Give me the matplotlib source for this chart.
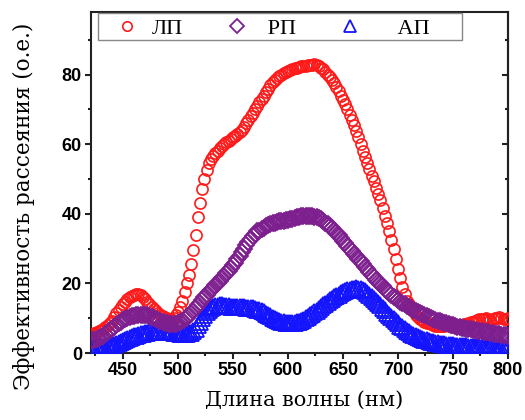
import numpy as np
import matplotlib
matplotlib.use("Agg")
import matplotlib.pyplot as plt
from matplotlib.patches import Rectangle
from matplotlib.ticker import MultipleLocator

# Wavelength grid (nm), 420 ... 800 in 2 nm steps
wavelength = np.arange(420, 801, 2)

# Scattering efficiency, arb. units
lp = [5.5, 5.6, 5.8, 6.0, 6.3, 6.6, 7.0, 7.5, 8.0, 8.6,
      9.3, 10.4, 11.5, 12.4, 13.2, 14.0, 14.8, 15.4, 16.0, 16.5,
      16.8, 17.0, 16.9, 16.6, 16.2, 15.6, 14.8, 14.0, 13.2, 12.6,
      12.0, 11.5, 11.0, 10.6, 10.2, 10.0, 9.8, 9.9, 10.2, 10.8,
      11.8, 13.2, 15.0, 17.5, 20.0, 22.5, 25.5, 29.5, 34.0, 39.0,
      43.0, 47.0, 50.0, 52.5, 54.5, 55.8, 56.7, 57.4, 58.0, 58.8,
      59.5, 60.0, 60.5, 61.0, 61.5, 62.0, 62.5, 63.0, 63.5, 64.2,
      65.0, 66.0, 67.0, 68.0, 69.0, 70.0, 71.0, 72.0, 73.0, 74.0,
      75.0, 76.0, 77.0, 77.8, 78.5, 79.0, 79.5, 80.0, 80.5, 80.8,
      81.0, 81.3, 81.5, 81.8, 82.0, 82.3, 82.5, 82.4, 82.5, 82.7,
      82.8, 82.9, 83.0, 82.8, 82.5, 82.0, 81.5, 80.8, 80.0, 79.3,
      78.5, 77.5, 76.5, 75.3, 74.0, 72.8, 71.5, 70.0, 68.5, 67.0,
      65.5, 63.8, 62.0, 60.0, 58.0, 56.3, 54.5, 52.8, 51.0, 49.3,
      47.5, 45.8, 44.0, 41.8, 39.5, 37.3, 35.0, 32.5, 30.0, 27.0,
      24.0, 21.5, 19.0, 17.0, 15.0, 14.0, 13.0, 12.0, 11.0, 10.4,
      9.8, 9.4, 9.0, 8.7, 8.5, 8.2, 8.0, 7.9, 7.8, 7.7,
      7.8, 7.9, 8.0, 7.9, 7.8, 7.6, 7.5, 7.6, 7.8, 8.0,
      8.2, 8.4, 8.5, 8.8, 9.0, 9.3, 9.5, 9.7, 9.8, 9.9,
      10.0, 9.8, 9.6, 9.8, 10.0, 10.2, 10.3, 10.0, 9.8, 9.9,
      10.0]
rp = [3.5, 3.6, 3.8, 4.0, 4.3, 4.6, 5.0, 5.5, 6.0, 6.5,
      7.0, 7.5, 8.0, 8.5, 9.0, 9.4, 9.8, 10.0, 10.3, 10.5,
      10.7, 10.9, 11.0, 11.0, 11.0, 10.9, 10.8, 10.5, 10.3, 10.0,
      9.8, 9.5, 9.2, 8.9, 8.7, 8.5, 8.3, 8.3, 8.3, 8.4,
      8.6, 8.9, 9.3, 9.7, 10.2, 10.8, 11.5, 12.2, 13.0, 13.7,
      14.5, 15.3, 16.2, 16.8, 17.5, 18.2, 18.8, 19.4, 20.0, 20.7,
      21.5, 22.2, 23.0, 23.7, 24.5, 25.2, 26.0, 27.0, 28.0, 29.0,
      30.0, 31.0, 32.0, 32.8, 33.5, 34.3, 35.0, 35.2, 35.5, 36.0,
      36.5, 36.8, 37.0, 37.3, 37.5, 37.7, 37.8, 37.9, 38.0, 38.2,
      38.3, 38.5, 38.6, 38.8, 39.0, 39.2, 39.3, 39.4, 39.5, 39.5,
      39.5, 39.4, 39.2, 39.0, 38.7, 38.4, 38.0, 37.5, 37.0, 36.4,
      35.8, 35.2, 34.5, 33.8, 33.0, 32.3, 31.5, 30.8, 30.0, 29.3,
      28.5, 27.8, 27.0, 26.3, 25.5, 24.8, 24.0, 23.3, 22.5, 21.8,
      21.0, 20.4, 19.8, 19.2, 18.5, 17.9, 17.3, 16.8, 16.2, 15.7,
      15.2, 14.8, 14.4, 14.0, 13.6, 13.2, 12.8, 12.5, 12.1, 11.8,
      11.5, 11.2, 10.9, 10.6, 10.3, 10.0, 9.8, 9.5, 9.3, 9.1,
      8.9, 8.7, 8.5, 8.3, 8.1, 8.0, 7.8, 7.6, 7.5, 7.3,
      7.2, 7.0, 6.9, 6.8, 6.7, 6.5, 6.4, 6.3, 6.2, 6.1,
      6.0, 5.9, 5.8, 5.7, 5.6, 5.5, 5.4, 5.3, 5.2, 5.1,
      5.0]
ap = [1.5, 1.5, 1.5, 1.6, 1.6, 1.7, 1.7, 1.8, 1.9, 2.0,
      2.2, 2.4, 2.7, 3.0, 3.2, 3.5, 3.8, 4.0, 4.3, 4.5,
      4.8, 5.0, 5.2, 5.4, 5.5, 5.7, 5.8, 5.9, 6.0, 6.1,
      6.2, 6.3, 6.3, 6.3, 6.2, 6.1, 6.0, 5.9, 5.8, 5.7,
      5.7, 5.6, 5.6, 5.6, 5.6, 5.7, 5.8, 6.2, 7.0, 8.0,
      9.0, 10.0, 11.0, 11.8, 12.5, 12.9, 13.3, 13.5, 13.6, 13.7,
      13.7, 13.6, 13.5, 13.4, 13.3, 13.2, 13.2, 13.2, 13.2, 13.1,
      13.1, 13.0, 13.0, 12.9, 12.8, 12.7, 12.5, 12.3, 12.0, 11.7,
      11.3, 10.9, 10.5, 10.1, 9.8, 9.5, 9.2, 9.0, 8.8, 8.6,
      8.5, 8.5, 8.5, 8.6, 8.8, 9.0, 9.3, 9.6, 10.0, 10.4,
      10.8, 11.2, 11.7, 12.2, 12.7, 13.2, 13.7, 14.2, 14.7, 15.2,
      15.6, 16.0, 16.4, 16.8, 17.1, 17.4, 17.7, 18.0, 18.2, 18.4,
      18.5, 18.6, 18.5, 18.3, 18.1, 17.7, 17.3, 16.8, 16.2, 15.6,
      15.0, 14.4, 13.7, 13.0, 12.3, 11.6, 11.0, 10.3, 9.7, 9.1,
      8.5, 7.9, 7.4, 6.9, 6.4, 6.0, 5.6, 5.2, 4.9, 4.6,
      4.3, 4.0, 3.8, 3.6, 3.4, 3.2, 3.1, 2.9, 2.8, 2.7,
      2.6, 2.5, 2.4, 2.3, 2.2, 2.2, 2.1, 2.1, 2.0, 2.0,
      1.9, 1.9, 1.8, 1.8, 1.7, 1.7, 1.7, 1.7, 1.6, 1.6,
      1.6, 1.6, 1.6, 1.6, 1.5, 1.5, 1.5, 1.5, 1.5, 1.5,
      1.5]

labels = ["ЛП", "РП", "АП"]
colors = ["#ff1a1a", "#7d1f8e", "#1414ff"]

fig = plt.figure(figsize=(5.25, 4.2), dpi=100)
ax = fig.add_axes([91 / 525, 1 - 353 / 420, 417 / 525, 341 / 420])

h_lp, = ax.plot(wavelength, lp, ls="none", marker="o", ms=8, mfc="none", mec=colors[0],
                mew=1.2, zorder=3)
h_ap, = ax.plot(wavelength, ap, ls="none", marker="^", ms=11, mfc="none", mec=colors[2],
                mew=1.3, zorder=3)
h_rp, = ax.plot(wavelength, rp, ls="none", marker="D", ms=8.5, mfc="none", mec=colors[1],
                mew=1.3, zorder=4)

ax.set_xlim(421, 800)
ax.set_ylim(0, 98)

ax.xaxis.set_major_locator(MultipleLocator(50))
ax.xaxis.set_minor_locator(MultipleLocator(25))
ax.yaxis.set_major_locator(MultipleLocator(20))
ax.yaxis.set_minor_locator(MultipleLocator(10))
ax.set_yticks([0, 20, 40, 60, 80])

for s in ax.spines.values():
    s.set_linewidth(1.5)
    s.set_color("#222222")

ax.tick_params(which="both", direction="out", top=False, right=False, color="#222222", width=1.5)
ax.tick_params(which="major", length=4.5, pad=2)
ax.tick_params(which="minor", length=2.5)
for lab in ax.get_xticklabels() + ax.get_yticklabels():
    lab.set_fontfamily("Liberation Sans")
    lab.set_fontweight("bold")
    lab.set_fontsize(13)

sec = ax.secondary_yaxis("right")
sec.yaxis.set_major_locator(MultipleLocator(20))
sec.yaxis.set_minor_locator(MultipleLocator(10))
sec.tick_params(which="both", direction="in", color="#222222", width=1.5, labelright=False)
sec.tick_params(which="major", length=4.5)
sec.tick_params(which="minor", length=2.5)
sec.spines["right"].set_linewidth(1.5)
sec.spines["right"].set_color("#222222")

ax.set_xlabel("Длина волны (нм)", fontfamily="DejaVu Serif", fontsize=15)
ax.set_ylabel("Эффективность рассеяния (о.е.)", fontfamily="DejaVu Serif", fontsize=15.5)
ax.xaxis.set_label_coords(0.51, -0.11)
ax.yaxis.set_label_coords(-0.135, 0.43)

# Legend box spanning most of the top edge
box = Rectangle((0.017, 0.918), 0.873, 0.079, transform=ax.transAxes,
                facecolor="white", edgecolor="#888888", linewidth=1.0, zorder=5)
ax.add_patch(box)
leg = ax.legend([h_lp, h_rp, h_ap], [labels[0], " " + labels[1], "    " + labels[2]], ncol=3,
                loc="upper left", bbox_to_anchor=(0.034, 1.0),
                frameon=False, prop={"family": "Liberation Serif", "size": 16},
                markerscale=0.85, borderpad=0.3, handletextpad=0.4, handlelength=1.4,
                columnspacing=1.75, borderaxespad=0)
leg.set_zorder(6)

fig.savefig("out.png", dpi=100)
